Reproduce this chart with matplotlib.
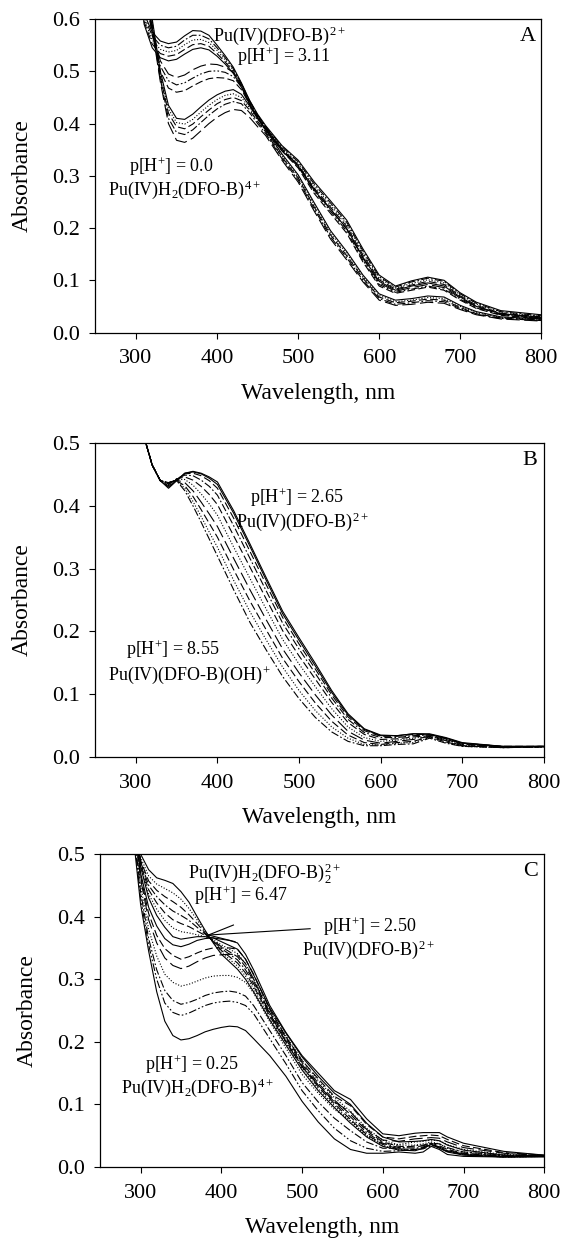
import matplotlib
matplotlib.use("Agg")
import matplotlib.pyplot as plt
from matplotlib.ticker import FormatStrFormatter

plt.rcParams["font.family"] = ["Liberation Serif", "DejaVu Serif"]
plt.rcParams["mathtext.fontset"] = "custom"
plt.rcParams["mathtext.rm"] = "Liberation Serif"
plt.rcParams["mathtext.it"] = "Liberation Serif:italic"
plt.rcParams["mathtext.bf"] = "Liberation Serif:bold"

# ---------------- panel A : p[H+] 0.0 -> 3.11 ----------------
wl_a = [300, 310, 320, 330, 340, 350, 360, 370, 380, 390, 400, 410, 420, 430, 440, 450,
        460, 480, 500, 520, 540, 560, 580, 600, 620, 640, 660, 680, 700, 720, 750, 800]
a01 = [0.80, 0.61, 0.575, 0.558, 0.553, 0.556, 0.568, 0.578, 0.577, 0.569, 0.550, 0.530, 0.508, 0.478, 0.445, 0.418,
       0.396, 0.358, 0.330, 0.288, 0.252, 0.215, 0.160, 0.110, 0.089, 0.099, 0.106, 0.100, 0.076, 0.058, 0.042, 0.034]
a02 = [0.79, 0.605, 0.568, 0.550, 0.545, 0.548, 0.560, 0.569, 0.569, 0.562, 0.545, 0.526, 0.505, 0.476, 0.443, 0.416,
       0.394, 0.356, 0.327, 0.284, 0.248, 0.211, 0.156, 0.107, 0.087, 0.097, 0.104, 0.098, 0.074, 0.056, 0.040, 0.032]
a03 = [0.78, 0.60, 0.560, 0.542, 0.537, 0.540, 0.551, 0.560, 0.561, 0.555, 0.540, 0.522, 0.502, 0.474, 0.441, 0.414,
       0.392, 0.354, 0.324, 0.280, 0.244, 0.207, 0.152, 0.104, 0.085, 0.094, 0.101, 0.095, 0.072, 0.054, 0.039, 0.031]
a04 = [0.77, 0.595, 0.552, 0.534, 0.529, 0.532, 0.542, 0.551, 0.553, 0.548, 0.534, 0.518, 0.499, 0.472, 0.439, 0.412,
       0.390, 0.351, 0.321, 0.276, 0.240, 0.203, 0.148, 0.101, 0.083, 0.091, 0.098, 0.092, 0.070, 0.052, 0.037, 0.030]
a05 = [0.76, 0.59, 0.545, 0.526, 0.520, 0.523, 0.533, 0.542, 0.545, 0.541, 0.529, 0.514, 0.496, 0.470, 0.437, 0.410,
       0.388, 0.348, 0.318, 0.272, 0.236, 0.199, 0.144, 0.098, 0.081, 0.089, 0.095, 0.089, 0.068, 0.050, 0.036, 0.029]
a06 = [0.82, 0.66, 0.58, 0.52, 0.495, 0.488, 0.493, 0.503, 0.510, 0.514, 0.513, 0.508, 0.498, 0.476, 0.444, 0.416,
       0.393, 0.352, 0.320, 0.274, 0.236, 0.198, 0.142, 0.095, 0.079, 0.086, 0.092, 0.086, 0.066, 0.049, 0.035, 0.028]
a07 = [0.82, 0.66, 0.575, 0.51, 0.482, 0.474, 0.478, 0.487, 0.495, 0.500, 0.501, 0.498, 0.490, 0.470, 0.440, 0.413,
       0.391, 0.350, 0.318, 0.270, 0.232, 0.194, 0.138, 0.092, 0.077, 0.083, 0.089, 0.083, 0.064, 0.047, 0.034, 0.027]
a08 = [0.82, 0.66, 0.57, 0.50, 0.468, 0.460, 0.463, 0.472, 0.480, 0.486, 0.488, 0.487, 0.482, 0.465, 0.437, 0.411,
       0.389, 0.348, 0.315, 0.266, 0.228, 0.190, 0.135, 0.089, 0.075, 0.081, 0.087, 0.081, 0.062, 0.046, 0.033, 0.026]
a09 = [0.84, 0.70, 0.60, 0.50, 0.435, 0.410, 0.408, 0.418, 0.432, 0.445, 0.455, 0.462, 0.465, 0.456, 0.434, 0.410,
       0.388, 0.342, 0.302, 0.248, 0.195, 0.155, 0.110, 0.074, 0.062, 0.065, 0.070, 0.068, 0.052, 0.040, 0.030, 0.026]
a10 = [0.84, 0.70, 0.595, 0.495, 0.428, 0.402, 0.399, 0.408, 0.422, 0.435, 0.446, 0.454, 0.457, 0.450, 0.430, 0.407,
       0.386, 0.339, 0.299, 0.244, 0.191, 0.151, 0.107, 0.071, 0.059, 0.062, 0.067, 0.065, 0.050, 0.038, 0.029, 0.025]
a11 = [0.84, 0.70, 0.59, 0.49, 0.42, 0.394, 0.390, 0.399, 0.413, 0.426, 0.438, 0.446, 0.450, 0.444, 0.426, 0.404,
       0.384, 0.336, 0.296, 0.240, 0.187, 0.147, 0.104, 0.068, 0.057, 0.060, 0.064, 0.062, 0.048, 0.036, 0.028, 0.024]
a12 = [0.84, 0.70, 0.585, 0.485, 0.41, 0.383, 0.379, 0.388, 0.402, 0.416, 0.428, 0.437, 0.442, 0.438, 0.421, 0.400,
       0.381, 0.333, 0.292, 0.236, 0.183, 0.143, 0.100, 0.065, 0.054, 0.057, 0.061, 0.059, 0.046, 0.035, 0.027, 0.023]
a13 = [0.84, 0.70, 0.58, 0.48, 0.40, 0.368, 0.364, 0.372, 0.386, 0.400, 0.412, 0.421, 0.427, 0.425, 0.412, 0.394,
       0.377, 0.330, 0.288, 0.232, 0.179, 0.139, 0.097, 0.062, 0.052, 0.054, 0.058, 0.056, 0.044, 0.034, 0.026, 0.022]

# ---------------- panel B : p[H+] 2.65 -> 8.55 ----------------
wl_b = [300, 310, 320, 330, 340, 350, 360, 370, 380, 390, 400, 420, 440, 460,
        480, 500, 520, 540, 560, 580, 600, 620, 640, 660, 680, 700, 750, 800]
b01 = [0.62, 0.51, 0.465, 0.440, 0.428, 0.440, 0.452, 0.455, 0.452, 0.446, 0.438, 0.392, 0.339, 0.285,
       0.232, 0.190, 0.149, 0.106, 0.069, 0.045, 0.035, 0.034, 0.037, 0.037, 0.031, 0.023, 0.017, 0.017]
b02 = [0.62, 0.51, 0.465, 0.440, 0.430, 0.441, 0.452, 0.454, 0.451, 0.444, 0.434, 0.388, 0.335, 0.281,
       0.228, 0.186, 0.145, 0.103, 0.067, 0.044, 0.034, 0.034, 0.037, 0.036, 0.030, 0.022, 0.017, 0.017]
b03 = [0.62, 0.51, 0.465, 0.440, 0.432, 0.442, 0.451, 0.452, 0.448, 0.440, 0.428, 0.380, 0.327, 0.274,
       0.222, 0.180, 0.140, 0.099, 0.064, 0.042, 0.033, 0.033, 0.036, 0.036, 0.030, 0.022, 0.017, 0.017]
b04 = [0.62, 0.51, 0.465, 0.440, 0.434, 0.443, 0.449, 0.448, 0.441, 0.431, 0.417, 0.368, 0.316, 0.264,
       0.213, 0.172, 0.133, 0.094, 0.060, 0.039, 0.031, 0.031, 0.034, 0.035, 0.029, 0.021, 0.016, 0.017]
b05 = [0.62, 0.51, 0.465, 0.440, 0.435, 0.443, 0.446, 0.441, 0.431, 0.418, 0.402, 0.352, 0.302, 0.251,
       0.201, 0.161, 0.124, 0.087, 0.055, 0.036, 0.028, 0.029, 0.032, 0.034, 0.028, 0.020, 0.016, 0.017]
b06 = [0.62, 0.51, 0.465, 0.440, 0.436, 0.442, 0.442, 0.433, 0.419, 0.403, 0.385, 0.334, 0.284, 0.235,
       0.187, 0.148, 0.112, 0.077, 0.048, 0.031, 0.025, 0.027, 0.030, 0.033, 0.027, 0.019, 0.016, 0.016]
b07 = [0.62, 0.51, 0.465, 0.440, 0.437, 0.441, 0.437, 0.424, 0.406, 0.387, 0.367, 0.316, 0.266, 0.218,
       0.172, 0.134, 0.099, 0.067, 0.041, 0.027, 0.022, 0.025, 0.028, 0.033, 0.026, 0.018, 0.015, 0.016]
b08 = [0.62, 0.51, 0.465, 0.440, 0.437, 0.440, 0.432, 0.415, 0.394, 0.372, 0.350, 0.298, 0.248, 0.202,
       0.157, 0.120, 0.086, 0.057, 0.035, 0.023, 0.020, 0.023, 0.025, 0.032, 0.024, 0.018, 0.015, 0.016]
b09 = [0.62, 0.51, 0.465, 0.440, 0.437, 0.440, 0.428, 0.407, 0.383, 0.358, 0.334, 0.281, 0.231, 0.186,
       0.143, 0.106, 0.074, 0.048, 0.030, 0.020, 0.019, 0.022, 0.023, 0.031, 0.023, 0.017, 0.015, 0.016]
b10 = [0.62, 0.51, 0.465, 0.440, 0.437, 0.440, 0.424, 0.400, 0.374, 0.347, 0.320, 0.266, 0.214, 0.170,
       0.128, 0.093, 0.063, 0.040, 0.025, 0.018, 0.018, 0.020, 0.021, 0.030, 0.022, 0.017, 0.015, 0.016]

# ---------------- panel C : p[H+] 0.25 -> 6.47 ----------------
wl_c = [290, 300, 310, 320, 330, 340, 350, 360, 370, 380, 390, 400, 410, 420, 430, 440,
        460, 480, 500, 520, 540, 560, 580, 600, 620, 640, 650, 660, 670, 680, 700, 750, 800]
c01 = [0.62, 0.50, 0.475, 0.462, 0.458, 0.453, 0.440, 0.423, 0.400, 0.378, 0.358, 0.340, 0.328, 0.316, 0.300, 0.280,
       0.235, 0.195, 0.155, 0.122, 0.095, 0.070, 0.048, 0.033, 0.027, 0.026, 0.030, 0.036, 0.030, 0.024, 0.019, 0.016, 0.017]
c02 = [0.62, 0.495, 0.465, 0.452, 0.445, 0.438, 0.428, 0.413, 0.395, 0.376, 0.359, 0.343, 0.332, 0.321, 0.305, 0.285,
       0.238, 0.198, 0.158, 0.125, 0.098, 0.073, 0.050, 0.034, 0.028, 0.027, 0.031, 0.036, 0.031, 0.025, 0.020, 0.016, 0.017]
c03 = [0.62, 0.49, 0.457, 0.442, 0.432, 0.424, 0.415, 0.403, 0.389, 0.374, 0.360, 0.346, 0.336, 0.326, 0.310, 0.289,
       0.241, 0.201, 0.161, 0.128, 0.101, 0.076, 0.052, 0.036, 0.029, 0.028, 0.031, 0.036, 0.031, 0.025, 0.020, 0.016, 0.017]
c04 = [0.62, 0.488, 0.450, 0.432, 0.419, 0.409, 0.402, 0.394, 0.383, 0.372, 0.361, 0.349, 0.340, 0.331, 0.315, 0.293,
       0.244, 0.204, 0.164, 0.131, 0.104, 0.080, 0.055, 0.038, 0.031, 0.030, 0.032, 0.037, 0.032, 0.026, 0.021, 0.017, 0.017]
c05 = [0.62, 0.485, 0.443, 0.422, 0.406, 0.395, 0.389, 0.384, 0.377, 0.370, 0.362, 0.352, 0.344, 0.336, 0.320, 0.297,
       0.247, 0.207, 0.167, 0.134, 0.107, 0.084, 0.058, 0.040, 0.033, 0.032, 0.034, 0.038, 0.034, 0.028, 0.022, 0.017, 0.017]
c06 = [0.62, 0.483, 0.436, 0.412, 0.394, 0.382, 0.376, 0.374, 0.371, 0.368, 0.363, 0.355, 0.348, 0.341, 0.325, 0.301,
       0.250, 0.210, 0.171, 0.138, 0.111, 0.089, 0.062, 0.043, 0.035, 0.035, 0.037, 0.040, 0.037, 0.030, 0.024, 0.018, 0.017]
c07 = [0.62, 0.48, 0.430, 0.402, 0.383, 0.368, 0.364, 0.366, 0.368, 0.368, 0.366, 0.360, 0.354, 0.348, 0.332, 0.307,
       0.254, 0.214, 0.176, 0.145, 0.118, 0.100, 0.070, 0.048, 0.040, 0.041, 0.042, 0.044, 0.042, 0.035, 0.027, 0.019, 0.018]
c08 = [0.58, 0.47, 0.415, 0.385, 0.365, 0.355, 0.352, 0.356, 0.362, 0.365, 0.366, 0.364, 0.362, 0.358, 0.340, 0.315,
       0.258, 0.215, 0.178, 0.150, 0.122, 0.108, 0.077, 0.053, 0.050, 0.054, 0.055, 0.055, 0.055, 0.048, 0.038, 0.025, 0.019]
c09 = [0.57, 0.465, 0.405, 0.370, 0.349, 0.338, 0.332, 0.336, 0.342, 0.347, 0.350, 0.350, 0.350, 0.348, 0.332, 0.308,
       0.252, 0.208, 0.170, 0.141, 0.113, 0.098, 0.068, 0.048, 0.045, 0.049, 0.050, 0.051, 0.050, 0.044, 0.034, 0.023, 0.019]
c10 = [0.57, 0.46, 0.395, 0.358, 0.334, 0.322, 0.317, 0.321, 0.328, 0.334, 0.338, 0.339, 0.340, 0.339, 0.325, 0.300,
       0.245, 0.200, 0.160, 0.131, 0.104, 0.088, 0.060, 0.043, 0.041, 0.045, 0.046, 0.047, 0.046, 0.040, 0.031, 0.022, 0.018]
c11 = [0.56, 0.45, 0.38, 0.337, 0.308, 0.295, 0.289, 0.292, 0.297, 0.302, 0.305, 0.306, 0.306, 0.303, 0.295, 0.278,
       0.232, 0.190, 0.148, 0.118, 0.092, 0.074, 0.050, 0.037, 0.036, 0.040, 0.041, 0.043, 0.042, 0.036, 0.028, 0.020, 0.018]
c12 = [0.56, 0.44, 0.365, 0.315, 0.282, 0.266, 0.260, 0.263, 0.268, 0.274, 0.278, 0.280, 0.281, 0.279, 0.273, 0.258,
       0.218, 0.178, 0.135, 0.104, 0.078, 0.058, 0.040, 0.030, 0.030, 0.034, 0.035, 0.038, 0.037, 0.031, 0.024, 0.019, 0.017]
c13 = [0.55, 0.43, 0.355, 0.300, 0.262, 0.247, 0.242, 0.246, 0.252, 0.258, 0.262, 0.264, 0.265, 0.263, 0.258, 0.245,
       0.205, 0.165, 0.122, 0.090, 0.062, 0.042, 0.030, 0.025, 0.026, 0.028, 0.029, 0.034, 0.032, 0.026, 0.021, 0.018, 0.017]
c14 = [0.54, 0.42, 0.345, 0.280, 0.233, 0.210, 0.203, 0.205, 0.210, 0.216, 0.220, 0.223, 0.225, 0.224, 0.218, 0.205,
       0.178, 0.145, 0.105, 0.072, 0.045, 0.028, 0.022, 0.022, 0.024, 0.022, 0.024, 0.033, 0.028, 0.020, 0.017, 0.016, 0.016]

x_ticks = [300, 400, 500, 600, 700, 800]

solid = "-"
dash = (0, (7, 3))
dot = (0, (1, 1.6))
dashdot = (0, (7, 2, 1.5, 2))
dashdotdot = (0, (7, 2, 1.5, 2, 1.5, 2))
longdash = (0, (12, 4))

a_curves = [a01, a02, a03, a04, a05, a06, a07, a08, a09, a10, a11, a12, a13]
a_styles = [solid, dashdot, dot, dash, solid, longdash, dashdotdot, dash, solid, dot, dash, dashdot, longdash]
b_curves = [b01, b02, b03, b04, b05, b06, b07, b08, b09, b10]
b_styles = [solid, solid, dash, dashdot, dash, dot, longdash, dash, dot, dashdot]
c_curves = [c01, c02, c03, c04, c05, c06, c07, c08, c09, c10, c11, c12, c13, c14]
c_styles = [solid, dot, dash, dashdot, dash, dot, solid, solid, dash, longdash, dot, dashdot, dashdotdot, solid]


def draw_panel(ax, wl, curves, styles, ymax, letter):
    for y, ls in zip(curves, styles):
        ax.plot(wl, y, color="black", lw=0.8, ls=ls)
    ax.set_xlim(250, 800)
    ax.set_ylim(0, ymax)
    ax.set_xticks(x_ticks)
    ax.set_yticks([i / 10 for i in range(int(round(ymax * 10)) + 1)])
    ax.yaxis.set_major_formatter(FormatStrFormatter("%.1f"))
    ax.tick_params(direction="out", length=4, width=0.8, labelsize=16)
    ax.tick_params(axis="x", pad=8)
    ax.tick_params(axis="y", pad=7)
    for s in ax.spines.values():
        s.set_linewidth(0.9)
    ax.set_xlabel("Wavelength, nm", fontsize=17)
    ax.set_ylabel("Absorbance", fontsize=17)
    ax.xaxis.set_label_coords(0.5, -0.16)
    ax.yaxis.set_label_coords(-0.14, 0.5)
    ax.text(783, ymax * 0.945, letter, fontsize=16, ha="center", va="center")


fig = plt.figure(figsize=(5.61, 12.39), dpi=100)
ax_a = fig.add_axes([0.1702, 0.7316, 0.7947, 0.2530])
ax_b = fig.add_axes([0.1695, 0.3890, 0.7998, 0.2534])
ax_c = fig.add_axes([0.1786, 0.0581, 0.7916, 0.2526])

draw_panel(ax_a, wl_a, a_curves, a_styles, 0.6, "A")
draw_panel(ax_b, wl_b, b_curves, b_styles, 0.5, "B")
draw_panel(ax_c, wl_c, c_curves, c_styles, 0.5, "C")

fs = 13
ph = r"p[H$^{\mathrm{+}}$] = "

ax_a.text(395, 0.569, r"Pu(IV)(DFO-B)$^{\mathrm{2+}}$", fontsize=fs, ha="left", va="center")
ax_a.text(424, 0.528, ph + "3.11", fontsize=fs, ha="left", va="center")
ax_a.text(344, 0.317, ph + "0.0", fontsize=fs, ha="center", va="center")
ax_a.text(359, 0.273, r"Pu(IV)H$_{\mathrm{2}}$(DFO-B)$^{\mathrm{4+}}$", fontsize=fs, ha="center", va="center")

ax_b.text(497, 0.413, ph + "2.65", fontsize=fs, ha="center", va="center")
ax_b.text(504, 0.375, r"Pu(IV)(DFO-B)$^{\mathrm{2+}}$", fontsize=fs, ha="center", va="center")
ax_b.text(345, 0.171, ph + "8.55", fontsize=fs, ha="center", va="center")
ax_b.text(365, 0.131, r"Pu(IV)(DFO-B)(OH)$^{\mathrm{+}}$", fontsize=fs, ha="center", va="center")

ax_c.text(453, 0.469, r"Pu(IV)H$_{\mathrm{2}}$(DFO-B)$_{\mathrm{2}}^{\mathrm{2+}}$", fontsize=fs, ha="center", va="center")
ax_c.text(424, 0.434, ph + "6.47", fontsize=fs, ha="center", va="center")
ax_c.text(584, 0.384, ph + "2.50", fontsize=fs, ha="center", va="center")
ax_c.text(582, 0.347, r"Pu(IV)(DFO-B)$^{\mathrm{2+}}$", fontsize=fs, ha="center", va="center")
ax_c.text(363, 0.163, ph + "0.25", fontsize=fs, ha="center", va="center")
ax_c.text(370, 0.126, r"Pu(IV)H$_{\mathrm{2}}$(DFO-B)$^{\mathrm{4+}}$", fontsize=fs, ha="center", va="center")
# pointer lines to the isosbestic point
ax_c.plot([384, 510], [0.3706, 0.3807], color="black", lw=0.8)
ax_c.plot([384, 415], [0.3706, 0.3866], color="black", lw=0.8)
ax_c.plot([384, 417], [0.3706, 0.3600], color="black", lw=0.8)

fig.savefig("out.png", dpi=100)
